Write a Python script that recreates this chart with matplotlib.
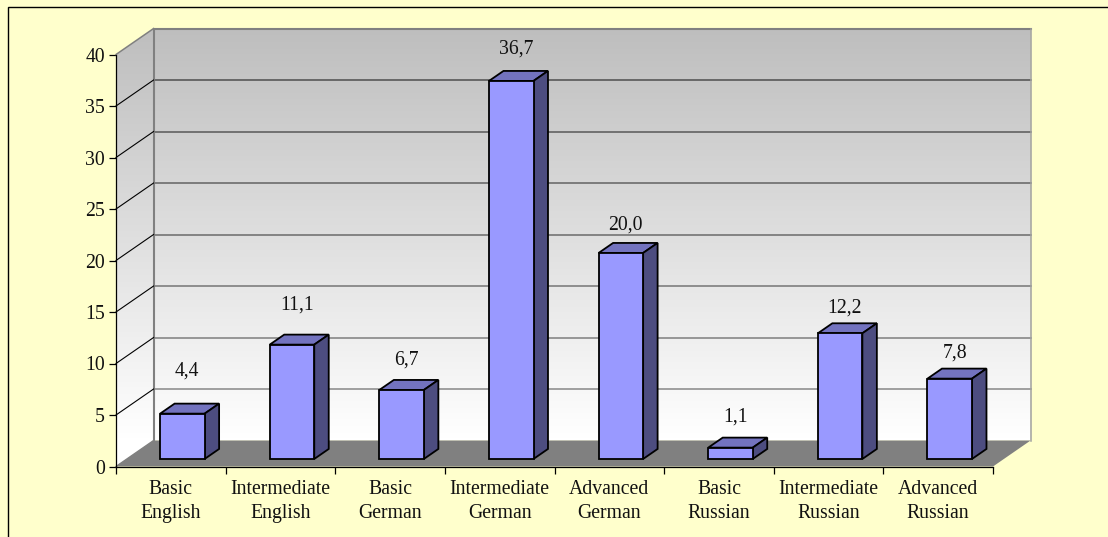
import matplotlib
matplotlib.use('Agg')
import matplotlib.pyplot as plt
import numpy as np
from matplotlib.patches import Rectangle
from matplotlib.path import Path

# chart values
categories = ['Basic\nEnglish', 'Intermediate\nEnglish', 'Basic\nGerman', 'Intermediate\nGerman',
              'Advanced\nGerman', 'Basic\nRussian', 'Intermediate\nRussian', 'Advanced\nRussian']
values = [4.4, 11.1, 6.7, 36.7, 20.0, 1.1, 12.2, 7.8]
y_ticks = [0, 5, 10, 15, 20, 25, 30, 35, 40]

# fake 3d layout, the value labels in the original were moved by hand
W, H = 1108, 537
label_gap = [33, 30, 20, 22, 18, 21, 15, 16]
depth_x = 37.6 / 109.625
depth_y = 26 / 10.3
bar_start = 0.303
bar_width = 0.406
bar_front = 0.29
bar_back = 0.675

plt.rcParams['font.family'] = ['Liberation Serif', 'DejaVu Serif']
plt.rcParams['font.size'] = 14.2

fig = plt.figure(figsize=(W / 100, H / 100), dpi=100, facecolor='#FFFFCC')
fig.add_artist(Rectangle((7.5 / W, -0.1), 1.2, 1.1 - 6.5 / H, transform=fig.transFigure,
                         fill=False, edgecolor='black', linewidth=1.0))

ax = fig.add_axes([116 / W, (H - 466.5) / H, 877 / W, 412 / H])
ax.patch.set_visible(False)

n = len(categories)
top = y_ticks[-1]

# walls, gradient runs down the screen from grey to white, white again below the back wall
rows = 256
span = top + depth_y
grad = np.clip(np.linspace(0, span, rows) / top, 0, 1).reshape(-1, 1)
grad_cmap = matplotlib.colors.LinearSegmentedColormap.from_list('wall', ['#BEBEBE', '#FFFFFF'])
im = ax.imshow(grad, cmap=grad_cmap, aspect='auto', zorder=1, vmin=0, vmax=1,
               extent=[0, n + depth_x, 0, span])
im.set_clip_box(fig.bbox)
wall = [(0, 0), (0, top), (depth_x, span), (n + depth_x, span),
        (n + depth_x, depth_y), (depth_x, depth_y), (0, 0)]
im.set_clip_path(Path(wall), ax.transData)

# floor
ax.fill([0, n, n + depth_x, depth_x], [0, 0, depth_y, depth_y], color='#808080',
        linewidth=0, zorder=2, clip_on=False)

# wall borders and grid
ax.plot([n + depth_x, depth_x, depth_x], [span, span, depth_y],
        color='#808080', linewidth=1.5, zorder=2, clip_on=False)
ax.plot([n + depth_x, n + depth_x], [span, depth_y], color='#A0A0A0',
        linewidth=1.1, zorder=2, clip_on=False)
ax.plot([0, depth_x], [top, span], color='#808080', linewidth=1.1, zorder=2, clip_on=False)
ax.plot([0, depth_x], [0, depth_y], color='#808080', linewidth=1, zorder=2, clip_on=False)
for t in y_ticks[1:-1]:
    shade = 0.27 + 0.3 * (1 - t / top)
    ax.plot([depth_x, n + depth_x], [t + depth_y, t + depth_y], color=str(shade),
            linewidth=1.1, zorder=1.5, clip_on=False)
    ax.plot([0, depth_x], [t, t + depth_y], color='black', linewidth=0.8, zorder=2, clip_on=False)

# bars, front face first, then top and side
x_left = np.arange(n) + bar_start
x_front = x_left + bar_front * depth_x
y_front = bar_front * depth_y
ax.bar(x_front, values, width=bar_width, bottom=y_front, align='edge', color='#9999FF',
       edgecolor='black', linewidth=1.3, zorder=4, clip_on=False)
d = (bar_back - bar_front)
for xf, v, gap in zip(x_front, values, label_gap):
    xr = xf + bar_width
    yt = y_front + v
    ax.fill([xf, xr, xr + d * depth_x, xf + d * depth_x], [yt, yt, yt + d * depth_y, yt + d * depth_y],
            facecolor='#7373BF', edgecolor='black', linewidth=1.3, zorder=3.5, clip_on=False)
    ax.fill([xr, xr + d * depth_x, xr + d * depth_x, xr],
            [y_front, y_front + d * depth_y, yt + d * depth_y, yt],
            facecolor='#4D4D80', edgecolor='black', linewidth=1.3, zorder=3.5, clip_on=False)
    ax.annotate(f'{v:.1f}'.replace('.', ','), xy=(xf - bar_start + 0.65 - bar_front * depth_x, yt + d * depth_y),
                xytext=(0, gap * 0.72), textcoords='offset points', ha='center', va='center',
                color='#111111', annotation_clip=False, zorder=5)

# axes
ax.set_xlim(0, n)
ax.set_ylim(0, top)
ax.set_xticks(np.arange(n + 1))
ax.set_xticklabels([''] * (n + 1))
ax.set_xticks(np.arange(n) + 0.5, categories, minor=True)
ax.tick_params(axis='x', which='major', length=5, width=0.9, color='black')
ax.tick_params(axis='x', which='minor', length=0, pad=9.5, labelcolor='#111111')
ax.set_yticks(y_ticks)
ax.tick_params(axis='y', length=5, width=0.9, pad=3, labelcolor='#111111')
for lab in ax.get_xticklabels(minor=True):
    lab.set_linespacing(1.4)
ax.spines['top'].set_visible(False)
ax.spines['right'].set_visible(False)
ax.spines['left'].set_linewidth(0.9)
ax.spines['bottom'].set_linewidth(0.9)

fig.savefig('out.png', dpi=100)
